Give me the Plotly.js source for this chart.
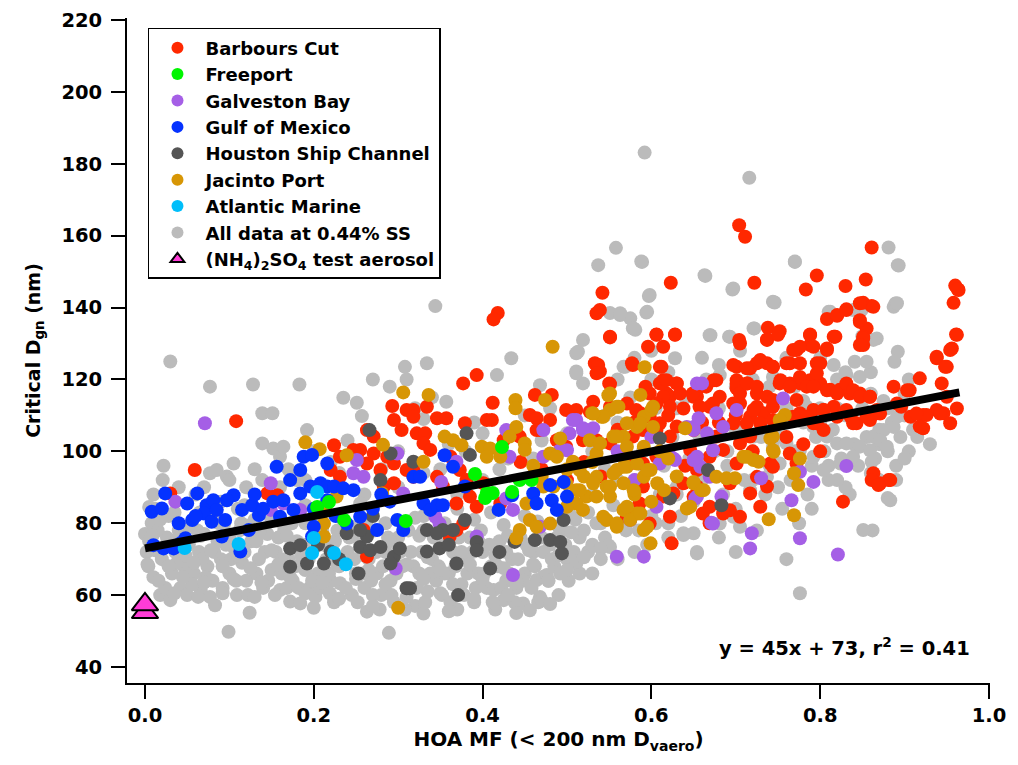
<!DOCTYPE html>
<html>
<head>
<meta charset="utf-8">
<script src="https://cdn.plot.ly/plotly-3.0.1.min.js"></script>
<style>html,body{margin:0;padding:0;background:#fff;}</style>
</head>
<body>
<div id="chart" style="width:1018px;height:765px;"></div>
<script>
// ---- Data (HOA mass fraction, critical Dgn in nm) ----
const allData044 = [
[0.000,77],[0.002,72],[0.004,68],[0.008,80],[0.010,65],[0.012,84],[0.018,60],[0.020,70],[0.021,92],[0.022,96],[0.024,62],[0.026,76],[0.030,125],[0.030,58.6],[0.032,66],[0.036,72],[0.040,78],[0.042,62],[0.046,68],[0.050,60],[0.052,74],[0.055,80],[0.058,66],[0.060,88],[0.064,72],[0.065,83],[0.066,61.4],[0.070,77],[0.074,68],[0.077,59.5],[0.077,118],[0.077,93.9],[0.080,64],[0.083,57.2],[0.085,94.8],[0.086,75],[0.090,70],[0.090,86],[0.094,80],[0.097,93],[0.099,49.8],[0.100,66],[0.100,76],[0.105,96.6],[0.106,73],[0.109,60],[0.110,84],[0.112,78],[0.115,69],[0.120,64],[0.120,90],[0.124,55.1],[0.126,75],[0.128,118.6],[0.130,81],[0.135,70],[0.139,110.6],[0.139,102.2],[0.139,92],[0.140,62],[0.145,77],[0.150,67],[0.151,110.6],[0.152,100.8],
[0.155,72],[0.160,61.4],[0.160,98.5],[0.162,66],[0.164,101.3],[0.165,78],[0.170,70],[0.170,95],[0.172,58.2],[0.175,64],[0.180,75],[0.180,92],[0.183,118.6],[0.184,57.7],[0.186,68],[0.190,80],[0.192,105.9],[0.195,62],[0.200,73],[0.200,100],[0.202,59.5],[0.205,66],[0.210,78],[0.215,70],[0.219,60.5],[0.220,64],[0.220,97],[0.225,75],[0.230,68],[0.231,63.3],[0.235,114.9],[0.236,80],[0.240,72],[0.240,103],[0.245,60],[0.250,66],[0.251,113.5],[0.255,74],[0.257,109.8],[0.260,62],[0.263,55.4],[0.265,70],[0.270,120],[0.272,78],[0.275,66],[0.280,60],[0.280,95],[0.285,72],[0.289,49.5],[0.290,118],[0.291,64],[0.295,58],[0.300,76],[0.300,100],[0.305,68],[0.308,123.5],[0.310,62],[0.310,120],[0.315,72],[0.320,57],[0.320,112],[0.325,66],[0.330,78],[0.330,109],[0.330,54.9],[0.334,124.5],[0.335,61],[0.340,70],[0.340,115],[0.344,140.4],[0.345,64],[0.350,74],
[0.352,60],[0.357,113.8],[0.360,66],[0.365,72],[0.370,56],[0.375,63],[0.380,70],[0.385,76],[0.390,58],[0.395,66],[0.400,72],[0.405,62],[0.410,68],[0.413,61.4],[0.415,56],[0.417,121.2],[0.420,75],[0.425,58.6],[0.428,64],[0.434,125.9],[0.435,70],[0.440,62],[0.445,76],[0.448,57.7],[0.450,66],[0.456,55.8],[0.460,72],[0.464,64.2],[0.468,59.5],[0.468,118.4],[0.472,65.1],[0.476,65.6],[0.480,74],[0.485,68],[0.490,60],[0.495,78],[0.500,70],[0.350,95],[0.380,100],[0.400,105],[0.450,110],[0.480,112],[0.460,98],[0.420,95],[0.370,88],[0.500,105],[0.390,108],
[0.505,82],[0.511,68.8],[0.511,127.3],[0.511,122.2],[0.515,76],[0.519,131],[0.519,118.9],[0.525,72],[0.530,88],[0.537,151.8],[0.540,80],[0.545,95],[0.551,73.4],[0.551,138.5],[0.555,85],[0.558,156.6],[0.560,108],[0.563,137.9],[0.567,123.5],[0.570,78],[0.575,137],[0.578,134.2],[0.580,92],[0.581,133.8],[0.589,152.7],[0.590,100],[0.592,183.1],[0.594,138.6],[0.597,143.2],[0.600,82],[0.605,112],[0.610,88],[0.615,96],[0.620,76],[0.625,104],[0.628,125.9],[0.630,90],[0.635,82],[0.638,77.2],[0.640,115],[0.645,98],[0.650,77.2],[0.650,86],[0.654,71.6],[0.545,110],[0.575,115],[0.600,120],[0.530,100],[0.560,92],
[0.655,105],[0.660,92],[0.664,148.8],[0.665,120],[0.670,132.3],[0.672,80],[0.675,100],[0.680,112],[0.685,88],[0.690,96],[0.692,131.9],[0.696,145],[0.700,84],[0.700,106],[0.705,128],[0.710,92],[0.716,176.1],[0.720,100],[0.722,134.2],[0.725,78],[0.730,110],[0.735,88],[0.740,96],[0.746,141.4],[0.750,104],[0.755,84],[0.760,112],[0.765,92],[0.770,152.7],[0.770,100],[0.775,80],[0.776,60.5],[0.780,108],[0.785,88],[0.790,96],[0.795,104],[0.800,112],[0.805,100],[0.810,138.8],[0.810,92],[0.815,106],[0.820,120],[0.825,98],[0.830,110],[0.835,88],[0.839,139.3],[0.840,102],[0.845,96],[0.850,112],[0.855,104],[0.860,122],[0.862,78],[0.865,98],[0.867,131.4],[0.870,106],[0.875,114],[0.880,100],[0.881,156.7],[0.885,108],[0.887,140.2],[0.889,141.1],[0.890,96],[0.893,151.7],[0.895,104],[0.900,110],[0.905,100],[0.910,106],[0.915,104],[0.930,102],[0.880,87],[0.870,92],[0.760,70],[0.700,72],[0.680,76],[0.720,92],[0.830,122],[0.800,126],[0.770,118],[0.905,120],[0.850,132],
[0.005,75],[0.015,78],[0.028,82],[0.038,69],[0.044,75],[0.056,63],[0.062,78],[0.068,70],[0.072,65],[0.082,72],[0.088,80],[0.092,62],[0.096,74],[0.102,70],[0.108,64],[0.114,80],[0.118,72],[0.122,60],[0.132,66],[0.136,78],[0.142,72],[0.146,64],[0.148,82],[0.154,60],[0.158,76],[0.166,70],[0.168,62],[0.174,80],[0.178,68],[0.182,62],[0.188,74],[0.194,70],[0.198,64],[0.206,80],[0.208,62],[0.212,74],[0.218,66],[0.224,58],[0.228,78],[0.234,70],[0.238,62],[0.242,76],[0.248,70],[0.252,58],[0.258,66],[0.262,80],[0.268,64],[0.274,72],[0.278,56],[0.282,68],[0.288,76],[0.292,60],[0.298,66],[0.302,72],[0.308,56],[0.312,78],[0.318,68],[0.322,62],[0.328,72],[0.332,58],[0.338,66],[0.342,76],[0.348,68],[0.355,66],[0.358,78],[0.362,58],[0.368,68],[0.372,76],[0.378,60],[0.382,66],[0.388,72],[0.392,62],[0.398,78],[0.402,66],[0.408,74],[0.412,58],[0.418,68],[0.422,62],[0.428,72],[0.432,66],[0.438,58],[0.442,70],[0.448,64],[0.452,74],[0.458,62],[0.462,68],[0.466,58],[0.472,72],[0.478,64],[0.482,70],[0.488,76],[0.492,66],[0.498,74],[0.502,64],[0.508,72],[0.515,66],[0.520,78],[0.530,74],[0.535,80],[0.545,76],[0.560,80],[0.575,84],[0.585,78],[0.595,74],[0.605,80],
[0.010,88],[0.040,90],[0.070,90],[0.100,92],[0.130,95],[0.160,90],[0.190,92],[0.230,94],[0.260,88],[0.300,90],[0.330,94],[0.360,102],[0.400,92],[0.430,98],[0.470,103],
[0.560,120],[0.580,126],[0.600,128],[0.620,122],[0.630,112],[0.660,126],[0.680,124],[0.700,118],[0.720,120],[0.740,118],[0.760,126],[0.780,114],[0.800,108],[0.820,112],[0.840,108],[0.860,116],[0.880,112],[0.900,116],[0.570,100],[0.590,96],[0.630,88],[0.660,96],[0.690,100],[0.730,104],[0.750,90],[0.790,84],[0.810,96],[0.830,90],[0.860,94],[0.870,102],[0.890,92],[0.900,98],
[0.792,106.8],[0.808,104.1],[0.820,102.2],[0.831,102.2],[0.847,101.3],[0.863,104.1],[0.875,105.9],[0.887,106.8],[0.891,109.6],[0.871,103.1],[0.859,100.3],[0.879,101.3],[0.839,98.5],[0.824,96.6],[0.804,94.8],[0.820,92.0],[0.792,98.5],[0.776,100.3],[0.760,102.2],[0.744,101.3],[0.752,96.6],[0.737,92.9],[0.717,89.2],[0.697,81.8],[0.705,79.0],[0.681,79.9],[0.638,76.7],[0.654,72.0],[0.549,73.9],[0.511,69.3],[0.851,78.1],[0.883,86.4],[0.861,97.1],[0.892,127.7],[0.888,124.9],[0.891,141.2],[0.892,151.8],[0.863,131.0],[0.855,124.9],[0.841,124.9],[0.831,121.2],[0.847,120.7],[0.849,139.3],[0.812,138.8],[0.816,124.0],[0.770,152.8],[0.744,141.6],[0.697,145.3],[0.669,132.3],[0.693,131.9],[0.721,134.2],[0.663,149.0],[0.588,152.8],[0.598,143.5],[0.595,138.8],[0.563,138.4],[0.579,134.2],[0.513,127.7],[0.511,121.7],[0.569,123.5],[0.681,121.2],[0.744,120.7],[0.784,112.4],[0.768,109.6],[0.737,105.9],[0.721,104.1],[0.705,104.1],
[0.005,84.5],[0.035,83],[0.075,84],[0.118,85],[0.145,83.5],[0.190,85],[0.255,85.5],[0.330,82],[0.370,84],[0.410,83],[0.450,82],[0.500,84],[0.525,83],
[0.018,81],[0.050,79],[0.083,80.5],[0.125,79.5],[0.160,80.5],[0.200,81],[0.245,79],[0.285,80],[0.320,81.5],[0.355,80],[0.390,81],[0.425,79.5],[0.465,80.5],[0.490,79],[0.510,81],
[0.009,76.5],[0.037,75.5],[0.066,76.5],[0.098,77],[0.132,75],[0.168,76.5],[0.205,76],[0.250,77],[0.290,75],[0.325,76.5],[0.360,77],[0.395,75],[0.430,76.5],[0.470,76],[0.505,77.5],[0.540,73],
[0.012,72.5],[0.048,71],[0.078,72.5],[0.110,71],[0.150,72.5],[0.185,71],[0.222,72.5],[0.260,71],[0.300,72.5],[0.335,70.5],[0.375,72],[0.415,71],[0.455,72.5],[0.490,71],[0.520,70.5],
[0.003,68.5],[0.028,68],[0.058,69],[0.092,68],[0.125,67.5],[0.158,68.5],[0.190,67],[0.228,68.5],[0.265,67],[0.310,68.5],[0.350,67],[0.385,68.5],[0.425,67.5],[0.460,68.5],[0.500,67],
[0.016,64],[0.045,65],[0.070,63.5],[0.105,64.5],[0.138,63.5],[0.172,65],[0.210,63.5],[0.250,64.5],[0.285,63],[0.330,64.5],[0.365,63],[0.400,64.5],[0.440,63.5],[0.478,64],
[0.035,60.5],[0.063,59.5],[0.092,60.5],[0.130,59.5],[0.190,60.5],[0.230,59],[0.270,60],[0.310,59.5],[0.350,60.5],[0.390,59],[0.430,60],[0.470,58.5],
[0.200,56.5],[0.270,57],[0.360,55.5],[0.440,55],[0.480,57.5],[0.530,66],[0.560,70],[0.580,72],[0.620,80],[0.540,70]
];

const barboursCut = [
[0.418,138.5],[0.413,136.7],[0.542,144.1],[0.539,139.3],[0.535,138.4],[0.551,131.9],[0.623,146.9],[0.606,132.5],[0.628,132.5],
[0.704,162.9],[0.711,159.7],[0.861,156.7],[0.722,146.9],[0.796,148.9],[0.783,145.0],[0.830,146.0],[0.854,147.8],[0.808,136.8],[0.820,137.7],[0.831,139.5],[0.851,141.3],[0.861,140.4],[0.847,136.0],[0.855,134.2],[0.960,146.1],[0.964,144.9],[0.958,141.3],[0.961,132.5],[0.738,134.4],[0.752,133.4],[0.788,132.5],[0.817,131.9],[0.704,131.0],[0.737,131.1],[0.851,131.9],
[0.705,130.0],[0.737,131.0],[0.750,132.4],[0.772,128.2],[0.788,129.6],[0.808,128.2],[0.818,131.9],[0.851,129.6],
[0.701,123.5],[0.717,123.1],[0.725,124.5],[0.737,124.5],[0.744,123.5],[0.764,124.5],[0.776,124.5],[0.796,124.5],
[0.938,126.3],[0.950,123.5],[0.962,132.4],[0.956,128.6],[0.918,120.3],[0.887,118.0],[0.903,117.0],
[0.701,117.5],[0.714,118.9],[0.725,116.1],[0.701,119.8],[0.753,119.8],[0.764,118.9],[0.776,118.9],[0.788,119.8],[0.800,118.9],[0.812,117.1],[0.823,117.1],[0.835,116.1],[0.847,116.1],[0.859,115.2],
[0.654,115.2],[0.674,119.8],[0.681,115.2],[0.669,112.4],[0.705,113.3],[0.725,112.4],[0.717,109.6],[0.733,110.6],[0.744,112.4],[0.744,108.7],
[0.772,114.3],[0.776,110.6],[0.792,111.5],[0.804,111.5],[0.796,107.8],[0.804,105.9],[0.820,109.6],[0.836,109.6],[0.843,107.8],[0.859,108.7],[0.867,110.6],[0.891,113.3],[0.907,109.6],[0.922,110.1],[0.918,106.9],[0.938,111.5],[0.946,110.6],[0.954,107.8],[0.962,111.9],
[0.677,104.1],[0.669,98.5],[0.685,100.4],[0.705,102.2],[0.717,104.1],[0.701,96.6],[0.693,91.1],[0.725,92.9],[0.741,96.6],[0.737,90.2],[0.744,95.7],[0.764,99.4],[0.772,96.6],[0.717,88.3],[0.729,84.6],[0.693,83.6],[0.705,81.8],[0.669,84.6],[0.661,82.7],[0.650,87.4],
[0.863,93.9],[0.871,91.1],[0.883,92.0],[0.827,86.0],[0.654,90.2],[0.669,80.0],[0.685,82.7],
[0.551,131.7],[0.533,124.5],[0.539,122.2],[0.577,124.5],[0.606,132.4],[0.628,132.4],[0.596,129.1],[0.614,129.1],[0.610,123.5],[0.614,119.8],[0.630,118.9],[0.622,115.2],[0.650,115.2],[0.638,111.9],[0.654,117.1],
[0.393,121.2],[0.377,118.9],[0.412,113.5],[0.462,115.7],[0.482,115.7],[0.551,118.7],
[0.334,112.4],[0.318,111.5],[0.346,109.2],[0.357,109.2],[0.379,107.8],[0.322,105.0],[0.332,105.0],[0.330,102.2],[0.338,100.4],[0.318,94.8],
[0.405,108.7],[0.411,108.7],[0.456,110.1],[0.464,109.2],[0.480,108.7],[0.468,105.9],[0.499,111.5],[0.511,111.5],[0.531,113.8],[0.527,111.0],[0.551,112.4],[0.571,113.3],[0.587,110.6],[0.598,116.1],[0.618,116.1],[0.590,105.9],[0.606,105.9],[0.622,104.1],[0.630,106.9],[0.650,105.9],[0.646,100.4],[0.654,94.8],[0.638,91.1],[0.626,88.3],[0.614,87.4],
[0.362,98.5],[0.373,94.8],[0.381,92.0],[0.385,87.4],[0.369,85.5],[0.393,84.6],[0.401,91.1],[0.421,85.5],[0.377,79.9],
[0.425,103.1],[0.444,104.1],[0.464,105.9],[0.488,103.1],[0.499,101.3],[0.519,103.1],[0.535,103.1],[0.551,102.2],[0.563,99.4],[0.578,104.1],[0.590,96.6],[0.606,98.5],[0.575,96.6],[0.590,90.2],[0.586,85.5],[0.571,81.8],[0.598,79.9],[0.622,81.8],[0.624,74.4],
[0.346,92.9],[0.353,90.2],[0.369,78.1],[0.361,76.3],
[0.108,108.4],[0.059,94.8],[0.030,88.3],[0.293,112.6],[0.310,111.5],[0.295,108.7],[0.304,105.9],[0.318,109.6],[0.263,105.9],[0.271,104.1],[0.255,100.4],[0.271,99.4],[0.287,98.5],[0.263,96.6],[0.279,94.8],[0.295,96.6],[0.310,94.8],[0.318,92.9],[0.295,91.1],[0.283,90.2],[0.224,101.7],[0.231,98.5],[0.220,94.8],[0.231,92.9],[0.247,100.4],[0.251,98.5],[0.145,88.3],[0.157,87.8],[0.259,78.1],[0.263,70.7],
[0.445,97],[0.470,95],[0.520,97],[0.540,93],[0.500,92],[0.560,106],[0.580,108],[0.620,110],[0.640,96],[0.660,108],[0.680,108],[0.700,110],[0.720,100],[0.760,104],[0.780,102],[0.800,100],
[0.537,124.0],[0.535,121.7],[0.550,118.9],[0.578,124.0],[0.612,123.5],
[0.593,118.0],[0.610,118.9],[0.618,119.8],[0.630,118.9],[0.634,116.1],[0.614,115.2],[0.622,112.4],[0.606,113.3],[0.598,109.6],[0.610,107.8],[0.582,111.5],
[0.649,116.1],[0.665,118.0],[0.677,119.8],[0.657,112.4],[0.673,113.3],[0.701,118.9],[0.705,116.1],[0.713,118.9],[0.725,118.0],[0.697,113.3],[0.721,111.5],[0.737,115.2],[0.729,107.8],[0.713,107.8],[0.697,107.8],[0.744,114.3],[0.752,118.9],
[0.697,124.0],[0.713,123.1],[0.729,125.4],[0.744,123.5],[0.760,124.5],[0.768,128.2],[0.776,129.1],[0.788,132.3],[0.792,129.1],[0.800,124.5],[0.796,121.7],[0.776,120.7],[0.764,118.0],[0.784,118.0],[0.792,118.0],[0.808,117.0],[0.820,116.1],[0.831,118.9],[0.839,117.0],[0.847,115.2],[0.859,115.2],[0.867,111.5],[0.855,109.6],[0.839,107.8],[0.831,111.5],[0.816,112.4],[0.804,111.5],[0.792,107.8],[0.784,109.6],[0.768,109.6],
[0.820,137.9],[0.831,139.3],[0.847,141.2],[0.863,140.2],[0.847,136.5],[0.851,131.4],[0.847,129.6],[0.816,131.9],[0.808,128.6],
[0.963,145.1],[0.954,128.2],[0.938,125.9],[0.948,123.5],[0.906,117.0],[0.944,118.9],[0.950,115.2],[0.942,110.5],[0.926,110.1],[0.914,110.5],[0.922,106.4],[0.896,112.4],[0.871,110.5],[0.861,92.0],[0.881,92.0],[0.869,90.6]
];

const galvestonBay = [
[0.071,107.8],[0.036,86.0],[0.149,91.1],[0.299,99.4],[0.251,97.6],[0.297,67.4],[0.149,83.7],[0.184,83.7],[0.164,85.5],[0.247,93.9],[0.259,92.9],[0.306,88.3],
[0.472,105.9],[0.428,105.9],[0.503,105.0],[0.519,106.4],[0.531,106.4],[0.511,108.7],[0.472,98.5],[0.432,98.5],[0.650,106.8],[0.654,118.9],[0.642,106.8],[0.626,98.0],[0.606,84.6],[0.575,80.9],[0.559,70.7],[0.591,70.7],[0.436,65.6],[0.468,79.0],[0.393,76.3],[0.428,86.9],[0.436,83.7],[0.351,91.5],[0.369,97.1],[0.344,81.8],[0.349,79.9],
[0.660,118.9],[0.656,109.2],[0.677,110.6],[0.701,111.5],[0.685,106.8],[0.650,105.9],[0.654,98.5],[0.658,95.7],[0.669,92.9],[0.654,87.4],[0.683,87.4],[0.756,114.7],[0.730,92.5],[0.766,86.4],[0.776,94.3],[0.792,91.5],[0.831,95.9],[0.719,77.2],[0.717,73.0],[0.776,75.8],[0.821,71.3],[0.671,80.1],
[0.560,100],[0.600,104],[0.620,100],[0.580,92],
[0.666,105.0],[0.610,96.6],[0.628,97.6],[0.650,97.6],[0.673,100.3],[0.652,86.9],[0.673,79.9],[0.507,108.7],[0.519,105.9],[0.492,100.3],[0.500,100.3]
];

const houstonShipChannel = [
[0.266,105.9],[0.291,99.4],[0.279,92.0],[0.318,97.1],[0.172,73.0],[0.184,73.9],[0.172,67.9],[0.192,68.8],[0.212,68.8],[0.220,72.1],[0.255,73.4],[0.267,72.5],[0.279,73.4],[0.263,76.3],[0.295,70.7],[0.302,73.0],[0.291,68.8],[0.253,66.0],[0.310,61.9],[0.239,77.2],[0.255,78.1],
[0.381,105.0],[0.385,99.0],[0.379,80.9],[0.353,78.1],[0.365,78.1],[0.334,78.1],[0.346,77.2],[0.349,73.0],[0.334,72.1],[0.393,74.8],[0.393,72.5],[0.369,68.8],[0.409,67.4],[0.371,60.0],[0.314,61.9],[0.462,75.3],[0.480,75.3],[0.492,74.8],[0.494,71.6],[0.496,80.9],[0.438,74.8],[0.610,103.6],[0.622,86.9],[0.667,94.8],[0.683,85.0],
[0.270,82],[0.230,70],[0.205,74],[0.360,74],[0.420,72]
];

const jacintoPort = [
[0.483,129.1],[0.336,115.7],[0.330,97.1],[0.439,114.3],[0.439,112.0],[0.440,106.8],[0.432,104.1],[0.474,114.3],
[0.355,104.1],[0.375,101.7],[0.365,103.1],[0.399,101.3],[0.409,100.8],[0.421,98.5],[0.405,98.5],
[0.450,102.2],[0.450,100.4],[0.480,99.4],[0.488,98.5],[0.492,103.6],[0.507,97.1],[0.535,99.4],[0.527,103.1],[0.539,102.2],
[0.530,110.6],[0.541,109.6],[0.551,111.5],[0.561,112.4],[0.551,116.1],[0.587,115.7],[0.591,109.6],[0.600,111.5],[0.602,106.8],[0.583,106.8],[0.567,104.1],[0.555,104.1],[0.571,101.3],
[0.592,123.4],[0.640,106.4],
[0.472,90.2],[0.484,90.2],[0.499,91.1],[0.511,89.2],[0.523,87.4],[0.535,92.9],[0.547,90.2],[0.559,94.8],[0.571,95.7],[0.583,96.6],[0.591,92.9],[0.599,94.8],[0.607,91.1],[0.615,89.2],[0.567,91.1],[0.551,87.4],[0.567,83.7],[0.583,82.7],[0.547,80.9],[0.559,79.0],[0.575,80.9],[0.591,78.1],[0.599,74.4],[0.452,85.5],[0.456,80.9],[0.464,79.0],[0.480,79.9],[0.444,78.1],[0.440,75.8],[0.511,85.5],[0.519,83.7],[0.535,87.4],[0.551,90.2],
[0.642,84.1],[0.650,91.1],
[0.306,116.4],[0.190,102.5],[0.207,100.6],[0.239,98.9],[0.282,101.8],[0.281,88.3],[0.214,83.7],[0.212,79.9],[0.212,76.3],[0.227,87.4],[0.300,56.5],
[0.758,110.1],[0.752,108.7],[0.741,103.6],[0.745,99.9],[0.709,98.5],[0.721,97.6],[0.727,97.1],[0.677,92.9],[0.689,92.5],[0.699,92.5],[0.776,98.0],[0.769,93.9],[0.774,90.6],[0.769,82.2],[0.739,81.1],[0.650,91.5],[0.659,89.2],[0.646,84.6],
[0.460,96],[0.470,93],[0.500,95],[0.520,93],[0.530,97],[0.580,88],[0.600,86],[0.620,98],[0.630,93],[0.610,100],
[0.549,115.6],[0.559,112.4],[0.543,109.6],[0.531,110.5],[0.602,112.4],[0.571,107.8],[0.587,107.8],[0.559,104.1],[0.539,102.2],[0.591,101.3],[0.567,95.7],[0.555,93.8],[0.595,94.8],[0.579,89.2],[0.571,84.6],[0.587,82.7],[0.543,81.8],[0.559,79.9],[0.595,79.0],[0.515,89.2],[0.515,94.8],[0.531,91.1],[0.500,84.6],[0.662,89.2],[0.713,98.5],[0.744,100.3],[0.744,104.1]
];

const gulfOfMexico = [
[0.008,83.2],[0.020,84.1],[0.024,88.3],[0.010,73.9],[0.022,73.0],[0.042,74.4],[0.048,75.8],[0.034,73.0],[0.056,80.9],[0.050,85.5],[0.062,88.3],[0.073,85.0],[0.081,86.4],[0.070,82.7],[0.079,80.4],[0.095,80.9],[0.105,87.8],[0.097,86.4],[0.085,83.7],[0.115,83.7],[0.127,85.0],[0.135,82.3],[0.123,78.1],[0.113,72.1],[0.091,76.3],[0.156,95.7],[0.152,86.0],[0.164,86.4],[0.160,81.8],[0.176,83.7],[0.172,92.0],[0.184,94.8],[0.188,98.5],[0.198,99.0],[0.216,96.6],[0.184,88.3],[0.196,90.2],[0.208,91.1],[0.216,90.2],[0.224,90.2],[0.235,89.7],[0.247,89.2],[0.216,86.4],[0.200,79.0],[0.198,76.3],[0.239,79.9],[0.255,81.8],[0.275,78.1],[0.299,80.9],[0.306,78.1],[0.318,92.9],
[0.355,98.9],[0.365,95.7],[0.326,92.9],[0.330,85.5],[0.338,83.7],[0.346,85.0],[0.353,85.0],[0.379,90.2],[0.419,83.7],[0.435,87.8],[0.460,88.3],[0.464,85.5],[0.480,90.6],[0.482,86.4],[0.496,91.5],[0.500,87.4],[0.488,83.7],
[0.130,88],[0.140,84],[0.060,82],[0.040,80],[0.270,84],[0.280,88],[0.290,86],[0.200,84],[0.226,82]
];

const freeport = [
[0.218,85.9],[0.204,84.5],[0.236,80.9],[0.309,80.6],[0.423,101.2],[0.391,93.7],[0.405,88.4],[0.412,88.4],[0.403,87.0],[0.435,88.7],[0.444,92.0],[0.458,92.0]
];

const atlanticMarine = [
[0.047,73.1],[0.111,74.2],[0.204,88.7],[0.200,75.9],[0.198,71.7],[0.224,71.7],[0.238,68.6]
];

const ammoniumSulfate = [[0.000,55.2],[0.000,57.4]];

// linear fit: y = 45x + 73
const fitLine = [[0.000,73.0],[0.965,116.4]];

const xTickVals = [0, 0.2, 0.4, 0.6, 0.8, 1.0];
const xTickText = ['0.0','0.2','0.4','0.6','0.8','1.0'];
const yTickVals = [40,60,80,100,120,140,160,180,200,220];

// ---- Plot ----
const FONT = 'DejaVu Sans, Verdana, sans-serif';
const xs = a => a.map(p => p[0]);
const ys = a => a.map(p => p[1]);

function pts(arr, name, color, rank) {
  return {
    type: 'scatter', mode: 'markers', name: name,
    x: xs(arr), y: ys(arr),
    marker: {size: 14, color: color, line: {width: 0}},
    legendrank: rank, hoverinfo: 'skip'
  };
}

const traces = [
  pts(allData044, 'All data at 0.44% SS', 'rgb(187,187,187)', 8),
  pts(barboursCut, 'Barbours Cut', 'rgb(255,40,0)', 1),
  pts(galvestonBay, 'Galveston Bay', 'rgb(165,95,230)', 3),
  pts(houstonShipChannel, 'Houston Ship Channel', 'rgb(85,85,85)', 5),
  pts(jacintoPort, 'Jacinto Port', 'rgb(215,150,5)', 6),
  pts(gulfOfMexico, 'Gulf of Mexico', 'rgb(5,50,255)', 4),
  pts(freeport, 'Freeport', 'rgb(0,245,0)', 2),
  pts(atlanticMarine, 'Atlantic Marine', 'rgb(0,190,250)', 7),
  {
    type: 'scatter', mode: 'markers',
    name: '(NH<sub>4</sub>)<sub>2</sub>SO<sub>4</sub> test aerosol',
    x: xs(ammoniumSulfate), y: ys(ammoniumSulfate),
    marker: {symbol: 'triangle-up', size: 23, color: 'rgb(255,60,215)', line: {color: 'black', width: 2}},
    legendrank: 9, hoverinfo: 'skip'
  },
  {
    type: 'scatter', mode: 'lines', name: 'fit', showlegend: false,
    x: xs(fitLine), y: ys(fitLine),
    line: {color: 'black', width: 8}, hoverinfo: 'skip'
  }
];

const axisCommon = {
  showline: true, linewidth: 2, linecolor: 'black',
  ticks: 'outside', ticklen: 14, tickwidth: 2, tickcolor: 'black',
  showgrid: false, zeroline: false, mirror: false,
  tickfont: {family: FONT, size: 19.5, weight: 'bold', color: 'black'}
};

const layout = {
  width: 1018, height: 765,
  margin: {l: 127, r: 28, t: 18, b: 82},
  paper_bgcolor: 'white', plot_bgcolor: 'white',
  font: {family: FONT, color: 'black'},
  showlegend: true,
  legend: {
    x: 0.0243, y: 0.985, xanchor: 'left', yanchor: 'top',
    bgcolor: 'white', bordercolor: 'black', borderwidth: 1.5,
    font: {family: FONT, size: 18, weight: 'bold', color: 'black'},
    itemsizing: 'constant', itemwidth: 46
  },
  xaxis: Object.assign({}, axisCommon, {
    range: [-0.0213, 1.0012],
    tickmode: 'array', tickvals: xTickVals, ticktext: xTickText,
    title: {text: 'HOA MF (&lt; 200 nm D<sub>vaero</sub>)', font: {family: FONT, size: 20, weight: 'bold'}, standoff: 6}
  }),
  yaxis: Object.assign({}, axisCommon, {
    range: [35.55, 220.55],
    tickmode: 'array', tickvals: yTickVals,
    ticklabelstandoff: 5,
    title: {text: 'Critical D<sub>gn</sub> (nm)', font: {family: FONT, size: 19, weight: 'bold'}, standoff: 16}
  }),
  annotations: [{
    xref: 'x', yref: 'y', x: 0.829, y: 45.5,
    text: 'y = 45x + 73, r<sup>2</sup> = 0.41', showarrow: false,
    font: {family: FONT, size: 19.5, weight: 'bold', color: 'black'}
  }]
};

Plotly.newPlot('chart', traces, layout, {displayModeBar: false, staticPlot: true});
</script>
</body>
</html>
